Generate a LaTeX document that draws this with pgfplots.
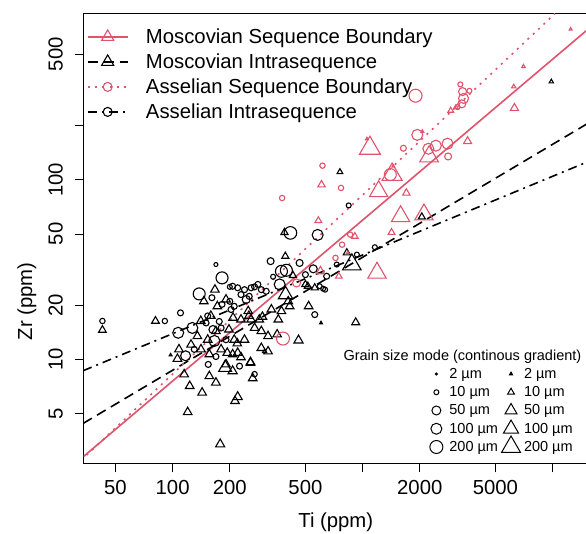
\documentclass[border=0pt]{standalone}
\usepackage{fontspec}
\setmainfont{Liberation Sans}
\usepackage{pgfplots}
\usepackage{pgfplotstable}
\pgfplotsset{compat=1.18}
\definecolor{rred}{HTML}{DF536B}

% Asselian sequence boundary (red circles): Ti, Zr, marker radius
\pgfplotstableread{
x y s
3270 340 2.5
3360 310 4
3650 313 2.5
3400 284 5
3330 265 4
3162 254 2.5
1900 294 6.5
1941 178 5.5
1640 150 3
2220 149 5.5
2430 155 5.5
2800 159 5.5
2820 135 3.5
1400 107 6
770 90.2 2.7
860 49.6 2.7
780 43.6 2.7
720 36.8 2.7
615 120 2.7
377 79.3 2.7
449 26.7 4
381 13.1 6.5
}\asb

% Moscovian sequence boundary (red triangles)
\pgfplotstableread{
x y s
12450 689 1
7030 427 1.3
6250 330 1.5
6300 251 2.8
2910 243 2
3100 254 1.5
3572 164 2.8
2240 135 6.5
1093 150 7.3
1054 169 1
2063 186 1
1450 119 1
1430 107 7
1215 86.3 6.4
1700 84.5 2.6
1585 62.7 6.4
2105 64.1 6.4
1420 51 2.4
910 48.5 2.3
1191 30.4 6.4
750 29.1 2.3
835 39.3 1
608 94 2.6
585 59.3 2.4
600 31.0 3
}\msb

% Moscovian intrasequence (black triangles)
\pgfplotstableread{
x y s
9850 352 1.5
760 110.7 2
2050 62.2 2.5
878 33.8 6.5
826 39.3 2.5
388 51 2.5
392 37.6 2.5
42.7 14.6 2.7
81.2 16.4 2.7
178 3.38 3.2
920 16.1 2.8
604 16.0 1
520 19.8 3
460 12.8 3.2
120 5.1 3
220 6.2 3.2
213 5.88 3
143 6.55 3
123 7.13 3
115 8.28 3
156 8.09 3
169 7.45 3
189 9.02 4.5
207 8.63 3.2
264 7.87 3
257 9.68 3
97.6 10.6 1
106 10.1 3
108 11.4 3
318 13.5 3
293 11.6 3
318 11.1 3
305 11.1 1.5
360 16.7 3
374 18.6 3
393 23.0 5
406 21.1 3
413 19.8 3
515 25.6 2.5
560 25.1 2.5
167 24.5 3
146 21.1 3
194 10.9 3
220 10.9 3
229 10.3 3
257 9.6 3
156 10.7 3
250 18.6 3
229 16.7 3
259 16.7 3
286 16.7 3
293 14.4 3
270 15 3
211 12.9 3
239 12.9 3
207 10.7 3
191 9.4 3
180 11.4 3
159 17.5 3
172 19.8 3
140.7 16.4 3
135 13.5 3
153 12.9 3
169 14.4 3
141 11.4 3
125 12.1 3
191 21.6 3
208 17.1 3
198 14.7 3
331 19.0 3
355 13.8 3
430 29.4 2.5
500 26.2 2.5
219 12.3 3
297 17.3 3
252 17.5 3
}\mis

% Asselian intrasequence (black circles)
\pgfplotstableread{
x y s
42.7 16.4 2.7
91 16.4 2.7
110 18.2 3
138 23.2 6
169 33.8 2
182 28.5 6
107 14.1 5.5
127 15.0 5.5
117 10.5 5
154 9.4 3
169 10.4 3
225 9.2 3
270 8.3 2.7
417 50.7 6.3
580 49.4 5.5
328 35.3 3.5
466 34.5 3.5
374 31.0 6
397 31.4 6
550 32 4
500 29.7 3
647 29.1 3
338 28.9 2.5
366 26.2 5.5
595 25.6 2.5
635 24.5 2.5
731 33.8 2.5
933 38.4 2.5
845 72.1 2.5
1160 42.2 2.5
560 17.8 3
620 24.8 2.5
207 25.6 3
220 25.1 3
239 24.5 3
259 25.1 3
281 26.2 3
293 24.5 3
253 22.5 3
229 23.0 3
311 24.0 3
200 25.4 2.5
270 25.4 3
244 21.6 4
150 16.0 3
163 14.7 4
176 16.3 3
130 11.4 3
166 12.7 5.5
191 12.9 3
203 19.0 3
182 20.3 3
161 22.1 3
200 21.1 3
211 19.8 3
153 17.5 3
180 15.0 3
}\ais

\pgfplotsset{
  pts/.style n args={3}{only marks, scatter, mark=#2, line width=1.1pt,
    point meta={\thisrow{s}},
    scatter/use mapped color={draw=#1, fill=#1},
    visualization depends on={#3*\thisrow{s} \as \ms},
    scatter/@pre marker code/.append style={/tikz/mark size=\ms},
    forget plot},
}

\begin{document}
\begin{tikzpicture}
\useasboundingbox (-83.5pt,-70.5pt) rectangle (502.5pt,463.5pt);
\begin{axis}[
  at={(0,0)}, anchor=south west, scale only axis,
  width=504.5pt, height=450pt,
  xmode=log, ymode=log,
  xmin=33.95, xmax=15370, ymin=2.642, ymax=843,
  axis line style={line width=0.9pt},
  xtick={50,100,200,500,1000,2000,5000,10000},
  xticklabels={50,100,200,500,,2000,5000,},
  ytick={5,10,20,50,100,200,500},
  yticklabels={5,10,20,50,100,,500},
  minor xtick={}, minor ytick={},
  xtick pos=lower, ytick pos=left,
  tick align=outside, major tick length=9pt,
  tick style={black, line width=0.9pt},
  /pgf/number format/assume math mode=true,
  ticklabel style={font=\fontsize{20.3}{24}\selectfont, inner sep=0pt},
  xticklabel style={anchor=north},
  yticklabel style={rotate=90, anchor=south},
  xticklabel shift=7.7pt, yticklabel shift=11.5pt,
  xlabel={Ti (ppm)}, ylabel={Zr (ppm)},
  label style={font=\fontsize{20.3}{24}\selectfont, inner sep=0pt},
  xlabel style={at={(axis description cs:0.5,-0.1433)}, anchor=base},
  ylabel style={at={(axis description cs:-0.112,0.36)}, anchor=center},
  legend cell align=left,
  legend style={at={(axis description cs:0.0063,0.9762)}, anchor=north west,
    draw=none, fill=none, inner sep=0pt, row sep=0pt, column sep=0pt,
    nodes={inner sep=0pt},
    font=\fontsize{20.3}{24}\selectfont},
  legend image code/.code={
    \draw[#1] (0pt,0pt) -- (40pt,0pt);
    \draw[#1, solid] plot coordinates {(20pt,0pt)};
    \path[draw=none, fill=none] (0pt,-12.5pt) rectangle (58.3pt,12.5pt);
  },
]
% fitted lines (log-log)
\addplot[rred, line width=1.6pt, forget plot] coordinates {(33.86,2.883) (15370,689)};
\addplot[black, line width=1.6pt, dash pattern=on 10pt off 6pt, forget plot] coordinates {(33.86,4.42) (15370,206.5)};
\addplot[rred, line width=1.6pt, dash pattern=on 2pt off 5.3pt, forget plot] coordinates {(35.3,2.944) (10320,843)};
\addplot[black, line width=1.6pt, dash pattern=on 9pt off 5pt on 2pt off 5pt, forget plot] coordinates {(33.86,8.68) (15370,126.3)};

\addplot[pts={black}{triangle}{1.65}] table[x=x,y=y] {\mis};
\addplot[pts={black}{o}{1}] table[x=x,y=y] {\ais};
\addplot[pts={rred}{triangle}{1.65}] table[x=x,y=y] {\msb};
\addplot[pts={rred}{o}{1}] table[x=x,y=y] {\asb};

\addlegendimage{rred, line width=1.6pt, mark=triangle, mark size=7pt, mark options={solid, line width=1.1pt}}
\addlegendentry{Moscovian Sequence Boundary}
\addlegendimage{black, line width=1.6pt, dash pattern=on 10pt off 6pt, mark=triangle, mark size=7pt, mark options={solid, line width=1.1pt}}
\addlegendentry{Moscovian Intrasequence}
\addlegendimage{rred, line width=1.6pt, dash pattern=on 2pt off 5.3pt, mark=o, mark size=4.5pt, mark options={solid, line width=1.1pt}}
\addlegendentry{Asselian Sequence Boundary}
\addlegendimage{black, line width=1.6pt, dash pattern=on 9pt off 5pt on 2pt off 5pt, mark=o, mark size=4.5pt, mark options={solid, line width=1.1pt}}
\addlegendentry{Asselian Intrasequence}

\node[anchor=base west, inner sep=0pt, font=\fontsize{14.5}{17}\selectfont]
  at (axis description cs:0.515,0.2284) {Grain size mode (continous gradient)};
\end{axis}

% grain size key
\begin{axis}[
  at={(0,0)}, anchor=south west, scale only axis,
  width=504.5pt, height=450pt, hide axis,
  xmin=0, xmax=1, ymin=0, ymax=1,
  legend columns=2, legend cell align=left,
  legend style={at={(axis description cs:0.6733,0.2196)}, anchor=north west,
    draw=none, fill=none, inner sep=0pt, row sep=0pt, column sep=0pt,
    nodes={inner sep=0pt},
    font=\fontsize{14.5}{17}\selectfont},
  legend image code/.code={
    \draw[#1, overlay] plot coordinates {(0pt,0pt)};
    \path[draw=none, fill=none] (-13pt,-9.125pt) rectangle (13pt,9.125pt);
  },
]
\addplot[draw=none, forget plot] coordinates {(0.5,0.5)};
\addlegendimage{only marks, mark=o, mark size=1pt, line width=1pt}
\addlegendentry{2 µm}
\addlegendimage{only marks, mark=triangle*, mark size=2pt, line width=0.8pt}
\addlegendentry{2 µm}
\addlegendimage{only marks, mark=o, mark size=2.5pt, line width=1pt}
\addlegendentry{10 µm}
\addlegendimage{only marks, mark=triangle, mark size=4pt, line width=1pt}
\addlegendentry{10 µm}
\addlegendimage{only marks, mark=o, mark size=4.5pt, line width=1pt}
\addlegendentry{50 µm}
\addlegendimage{only marks, mark=triangle, mark size=7pt, line width=1pt}
\addlegendentry{50 µm}
\addlegendimage{only marks, mark=o, mark size=5.5pt, line width=1pt}
\addlegendentry{100 µm}
\addlegendimage{only marks, mark=triangle, mark size=8.7pt, line width=1pt}
\addlegendentry{100 µm}
\addlegendimage{only marks, mark=o, mark size=6.5pt, line width=1pt}
\addlegendentry{200 µm}
\addlegendimage{only marks, mark=triangle, mark size=11pt, line width=1pt}
\addlegendentry{200 µm}
\end{axis}
\end{tikzpicture}
\end{document}
